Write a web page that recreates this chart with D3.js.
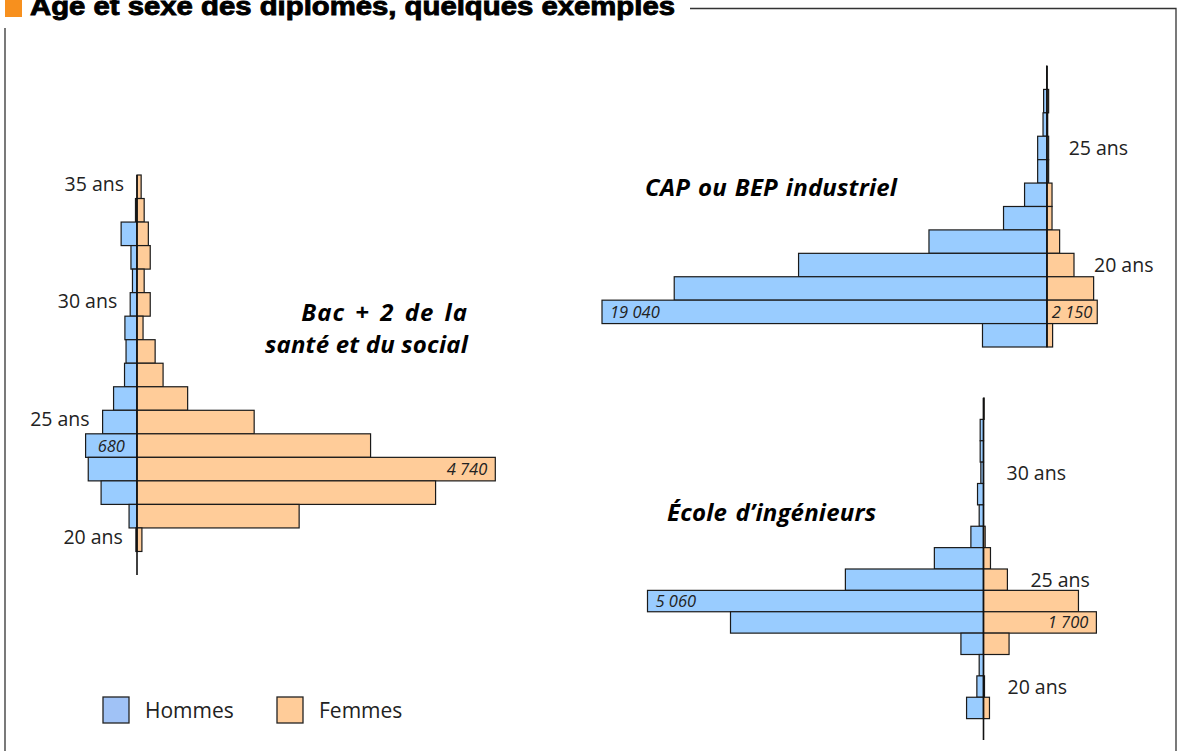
<!DOCTYPE html>
<html lang="fr">
<head>
<meta charset="utf-8">
<title>Âge et sexe des diplômés, quelques exemples</title>
<script src="https://cdn.jsdelivr.net/npm/d3@7"></script>
<style>
  html, body { margin: 0; padding: 0; background: #fff; }
  svg { display: block; }
</style>
</head>
<body>
<div id="chart"></div>
<script>
const width = 1179;
const height = 751;

// Bac + 2 de la santé et du social (ages from top to bottom)
const bacAges   = [35, 34, 33, 32, 31, 30, 29, 28, 27, 26, 25, 24, 23, 22, 21, 20, 19];
const bacHommes = [0, 20, 210, 80, 60, 90, 160, 145, 165, 310, 455, 680, 645, 475, 105, 15, 0];
const bacFemmes = [55, 95, 150, 175, 95, 175, 80, 240, 345, 670, 1550, 3090, 4740, 3950, 2145, 65, 0];
const bacTicks  = [35, 30, 25, 20];

// CAP ou BEP industriel
const capAges   = [28, 27, 26, 25, 24, 23, 22, 21, 20, 19, 18, 17];
const capHommes = [15, 145, 170, 400, 400, 960, 1860, 5050, 10630, 15950, 19040, 2760];
const capFemmes = [0, 70, 30, 70, 70, 215, 215, 540, 1155, 1995, 2150, 240];
const capTicks  = [25, 20];

// École d'ingénieurs
const ingAges   = [33, 32, 31, 30, 29, 28, 27, 26, 25, 24, 23, 22, 21, 20, 19, 18];
const ingHommes = [0, 50, 50, 40, 90, 65, 190, 740, 2080, 5060, 3810, 340, 65, 100, 255, 0];
const ingFemmes = [10, 0, 0, 0, 0, 0, 25, 105, 360, 1430, 1700, 385, 0, 15, 90, 0];
const ingTicks  = [30, 25, 20];

const legendItems = ["Hommes", "Femmes"];

const colors = {Hommes: "#99ccff", Femmes: "#ffcc99"};
const fontSans = "'Open Sans', 'DejaVu Sans', sans-serif";

// French number format: "4 740"
const fr = d3.formatLocale({decimal: ",", thousands: " ", grouping: [3], currency: ["", " €"]});
const fmt = fr.format(",d");

const svg = d3.select("#chart")
  .append("svg")
    .attr("width", width)
    .attr("height", height)
    .attr("viewBox", `0 0 ${width} ${height}`);

// Frame and title (the title is cropped at the top edge, as in the source)
svg.append("rect")
  .attr("x", 5).attr("y", 0)
  .attr("width", 17).attr("height", 17)
  .attr("fill", "#f7901e");

svg.append("text")
  .attr("x", 30)
  .attr("y", 15)
  .attr("font-family", "'Liberation Sans', Arial, sans-serif")
  .attr("font-weight", "bold")
  .attr("font-size", 26)
  .attr("textLength", 645)
  .attr("lengthAdjust", "spacingAndGlyphs")
  .attr("fill", "#000")
  .attr("stroke", "#000")
  .attr("stroke-width", 0.9)
  .text("Âge et sexe des diplômés, quelques exemples");

svg.append("path")
  .attr("d", "M690,8.5H1176V751 M5,28V751")
  .attr("fill", "none")
  .attr("stroke", "#333")
  .attr("stroke-width", 1.3);

const pyramids = [
  {
    ages: bacAges, hommes: bacHommes, femmes: bacFemmes, ticks: bacTicks,
    notes: [{age: 24, sexe: "Hommes"}, {age: 23, sexe: "Femmes"}],
    top: 175, bottom: 575, cx: 137, max: 4740, maxPx: 358.3,
    tickSide: "left", tickGap: 13, tickDy: -3,
    title: ["Bac + 2 de la", "santé et du social"],
    wordSpacing: [3, 0], letterSpacing: [1, 0.2],
    titleX: 468, titleY: 321, titleAnchor: "end"
  },
  {
    ages: capAges, hommes: capHommes, femmes: capFemmes, ticks: capTicks,
    notes: [{age: 18, sexe: "Hommes"}, {age: 18, sexe: "Femmes"}],
    top: 66, bottom: 347, cx: 1047, max: 19040, maxPx: 445,
    tickSide: "right", tickGap: 20, tickDy: 0,
    title: ["CAP ou BEP industriel"], wordSpacing: [1.5], letterSpacing: [0.2],
    titleX: 645, titleY: 196, titleAnchor: "start"
  },
  {
    ages: ingAges, hommes: ingHommes, femmes: ingFemmes, ticks: ingTicks,
    notes: [{age: 24, sexe: "Hommes"}, {age: 23, sexe: "Femmes"}],
    top: 398, bottom: 740, cx: 983.5, max: 5060, maxPx: 336,
    tickSide: "right", tickGap: 23, tickDy: 0,
    title: ["École d’ingénieurs"], wordSpacing: [2], letterSpacing: [0.2],
    titleX: 667, titleY: 521, titleAnchor: "start"
  }
];

pyramids.forEach(p => {
  const rows = p.ages.map((age, i) => ({age, Hommes: p.hommes[i], Femmes: p.femmes[i]}));

  const y = d3.scaleBand()
    .domain(p.ages)
    .range([p.top, p.bottom])
    .padding(0);

  const len = d3.scaleLinear()
    .domain([0, p.max])
    .range([0, p.maxPx]);

  const g = svg.append("g");

  // Men to the left
  g.selectAll("rect.h")
    .data(rows.filter(d => d.Hommes > 0))
    .join("rect")
      .attr("class", "h")
      .attr("x", d => p.cx - len(d.Hommes))
      .attr("y", d => y(d.age))
      .attr("width", d => len(d.Hommes))
      .attr("height", y.bandwidth())
      .attr("fill", colors.Hommes)
      .attr("stroke", "#1a1a1a")
      .attr("stroke-width", 1.2);

  // Women to the right
  g.selectAll("rect.f")
    .data(rows.filter(d => d.Femmes > 0))
    .join("rect")
      .attr("class", "f")
      .attr("x", p.cx)
      .attr("y", d => y(d.age))
      .attr("width", d => len(d.Femmes))
      .attr("height", y.bandwidth())
      .attr("fill", colors.Femmes)
      .attr("stroke", "#1a1a1a")
      .attr("stroke-width", 1.2);

  // Central axis
  g.append("line")
    .attr("x1", p.cx).attr("x2", p.cx)
    .attr("y1", p.top).attr("y2", p.bottom)
    .attr("stroke", "#111")
    .attr("stroke-width", 1.6);

  // Age ticks
  g.selectAll("text.age")
    .data(rows.filter(d => p.ticks.includes(d.age)))
    .join("text")
      .attr("class", "age")
      .attr("x", d => p.tickSide === "left"
        ? p.cx - len(d.Hommes) - p.tickGap
        : p.cx + len(d.Femmes) + p.tickGap)
      .attr("y", d => y(d.age) + y.bandwidth() / 2 + p.tickDy)
      .attr("dy", "0.36em")
      .attr("text-anchor", p.tickSide === "left" ? "end" : "start")
      .attr("font-family", fontSans)
      .attr("font-size", 19.5)
      .attr("fill", "#222")
      .text(d => `${d.age} ans`);

  // Value notes on the largest bars
  p.notes.forEach(n => {
    const d = rows.find(r => r.age === n.age);
    const w = len(d[n.sexe]);
    const sign = n.sexe === "Hommes" ? -1 : 1;
    let x, anchor;
    if (w < 80) {
      x = p.cx + sign * w / 2;
      anchor = "middle";
    } else {
      x = p.cx + sign * (w - 8);
      anchor = n.sexe === "Hommes" ? "start" : "end";
    }
    g.append("text")
      .attr("x", x)
      .attr("y", y(n.age) + y.bandwidth() / 2)
      .attr("dy", "0.36em")
      .attr("text-anchor", anchor)
      .attr("font-family", fontSans)
      .attr("font-style", "italic")
      .attr("font-size", 16.5)
      .attr("fill", "#222")
      .text(fmt(d[n.sexe]));
  });

  // Pyramid title
  g.append("text")
    .attr("x", p.titleX)
    .attr("y", p.titleY)
    .attr("text-anchor", p.titleAnchor)
    .attr("font-family", fontSans)
    .attr("font-style", "italic")
    .attr("font-weight", "bold")
    .attr("font-size", 24)
    .attr("fill", "#000")
    .selectAll("tspan")
    .data(p.title)
    .join("tspan")
      .attr("x", p.titleX)
      .attr("dy", (d, i) => i === 0 ? 0 : 32)
      .attr("word-spacing", (d, i) => p.wordSpacing[i])
      .attr("letter-spacing", (d, i) => p.letterSpacing[i])
      .text(d => d);
});

// Legend
const legend = svg.append("g")
  .selectAll("g")
  .data(legendItems)
  .join("g")
    .attr("transform", (d, i) => `translate(${103 + i * 174},697)`);

legend.append("rect")
  .attr("width", 26)
  .attr("height", 26)
  .attr("fill", d => d === "Hommes" ? "#a0c2f6" : colors.Femmes)
  .attr("stroke", "#222")
  .attr("stroke-width", 1.3);

legend.append("text")
  .attr("x", 42)
  .attr("y", 13)
  .attr("dy", "0.36em")
  .attr("font-family", fontSans)
  .attr("font-size", 21)
  .attr("fill", "#222")
  .text(d => d);
</script>
</body>
</html>
